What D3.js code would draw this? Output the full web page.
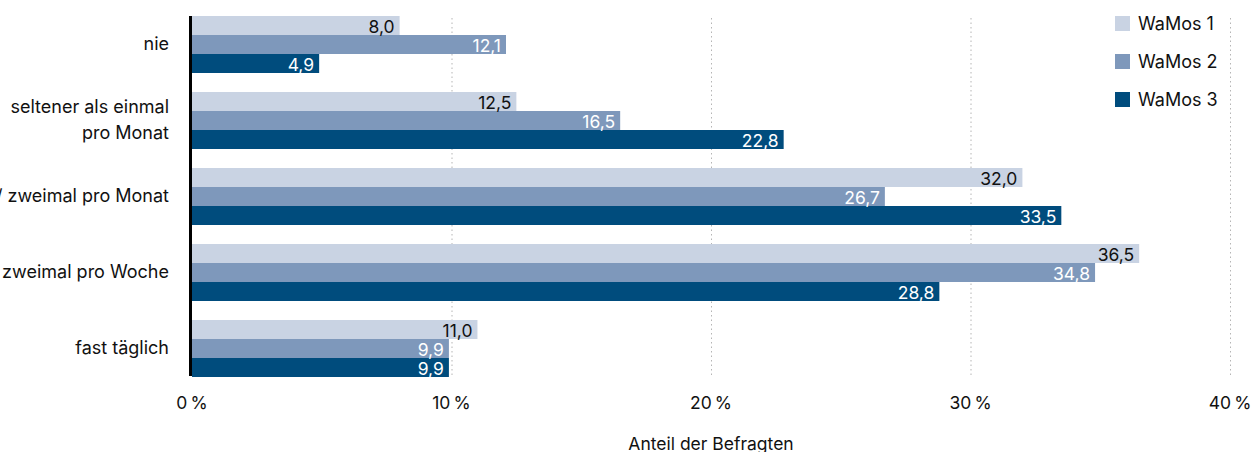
<!DOCTYPE html>
<html>
<head>
<meta charset="utf-8">
<script src="https://cdn.jsdelivr.net/npm/d3@7"></script>
<style>
  body { margin: 0; background: #fff; }
  svg { display: block; font-family: Inter, "Noto Sans", sans-serif; }
</style>
</head>
<body>
<div class="visContainer"></div>
<script>
// Chart data.
const categories = [
    ['nie'],
    ['seltener als einmal', 'pro Monat'],
    ['ein-/ zweimal pro Monat'],
    ['ein-/ zweimal pro Woche'],
    ['fast täglich']
];
const seriesNames = ['WaMos 1', 'WaMos 2', 'WaMos 3'];
const wamos1 = [8.0, 12.5, 32.0, 36.5, 11.0];
const wamos2 = [12.1, 16.5, 26.7, 34.8, 9.9];
const wamos3 = [4.9, 22.8, 33.5, 28.8, 9.9];
const xTicks = [0, 10, 20, 30, 40];
const axisTitle = 'Anteil der Befragten';

const colors = ['#c9d3e3', '#7e98bb', '#004c7d'];
const labelColors = ['#111', '#fff', '#fff'];

// SVG constants.
const width = 1253;
const height = 452;
const margin = {top: 16, left: 192, right: 23};

const svg = d3.select('.visContainer')
              .append('svg')
              .attr('width', width)
              .attr('height', height);

const x = d3.scaleLinear()
            .domain([0, 40])
            .range([margin.left, width - margin.right]);

const y = d3.scaleBand()
            .domain(d3.range(categories.length))
            .range([margin.top, 377])
            .paddingInner(0.25)
            .paddingOuter(0);

const ySub = d3.scaleBand()
               .domain(d3.range(seriesNames.length))
               .range([0, y.bandwidth()]);

// Dotted gridlines.
svg.append('g')
   .selectAll('line')
   .data(xTicks.slice(1))
   .join('line')
   .attr('x1', d => x(d) + 0.5)
   .attr('x2', d => x(d) + 0.5)
   .attr('y1', 18)
   .attr('y2', 376)
   .attr('stroke', '#b5b5b5')
   .attr('stroke-width', 1)
   .attr('stroke-dasharray', '1.5,3');

// Bars.
const data = [wamos1, wamos2, wamos3];
const groups = svg.append('g')
   .selectAll('g')
   .data(categories.map((c, i) => data.map(s => s[i])))
   .join('g')
   .attr('transform', (d, i) => `translate(0,${y(i)})`);

groups.selectAll('rect')
      .data(d => d)
      .join('rect')
      .attr('x', x(0))
      .attr('y', (d, j) => ySub(j))
      .attr('width', d => x(d) - x(0))
      .attr('height', ySub.bandwidth())
      .attr('fill', (d, j) => colors[j]);

groups.selectAll('text')
      .data(d => d)
      .join('text')
      .attr('x', d => x(d) - 5)
      .attr('y', (d, j) => ySub(j) + ySub.bandwidth() - 2)
      .attr('text-anchor', 'end')
      .attr('font-size', '17.5px')
      .attr('fill', (d, j) => labelColors[j])
      .text(d => d.toFixed(1).replace('.', ','));

// Baseline.
svg.append('line')
   .attr('x1', x(0) - 1.5)
   .attr('x2', x(0) - 1.5)
   .attr('y1', 16)
   .attr('y2', 376)
   .attr('stroke', '#000')
   .attr('stroke-width', 3);

// Category labels.
const catLabels = svg.append('g')
   .selectAll('text')
   .data(categories)
   .join('text')
   .attr('text-anchor', 'end')
   .attr('font-size', '18px')
   .attr('fill', '#111')
   .attr('y', (d, i) => y(i) + y.bandwidth() / 2 + 5 - (d.length - 1) * 13);

catLabels.selectAll('tspan')
         .data(d => d)
         .join('tspan')
         .attr('x', 169)
         .attr('dy', (d, k) => k === 0 ? 0 : 26)
         .text(d => d);

// X axis labels.
svg.append('g')
   .selectAll('text')
   .data(xTicks)
   .join('text')
   .attr('x', d => x(d))
   .attr('y', 409)
   .attr('text-anchor', 'middle')
   .attr('font-size', '17.5px')
   .attr('fill', '#111')
   .text(d => d + '\u202F%');

svg.append('text')
   .attr('x', (x(0) + x(40)) / 2)
   .attr('y', 450)
   .attr('text-anchor', 'middle')
   .attr('font-size', '17.5px')
   .attr('fill', '#111')
   .text(axisTitle);

// Legend.
const legend = svg.append('g')
   .selectAll('g')
   .data(seriesNames)
   .join('g')
   .attr('transform', (d, i) => `translate(1115,${16 + i * 38})`);

legend.append('rect')
      .attr('width', 15)
      .attr('height', 15)
      .attr('fill', (d, i) => colors[i]);

legend.append('text')
      .attr('x', 23)
      .attr('y', 14)
      .attr('font-size', '18px')
      .attr('fill', '#111')
      .text(d => d);
</script>
</body>
</html>
